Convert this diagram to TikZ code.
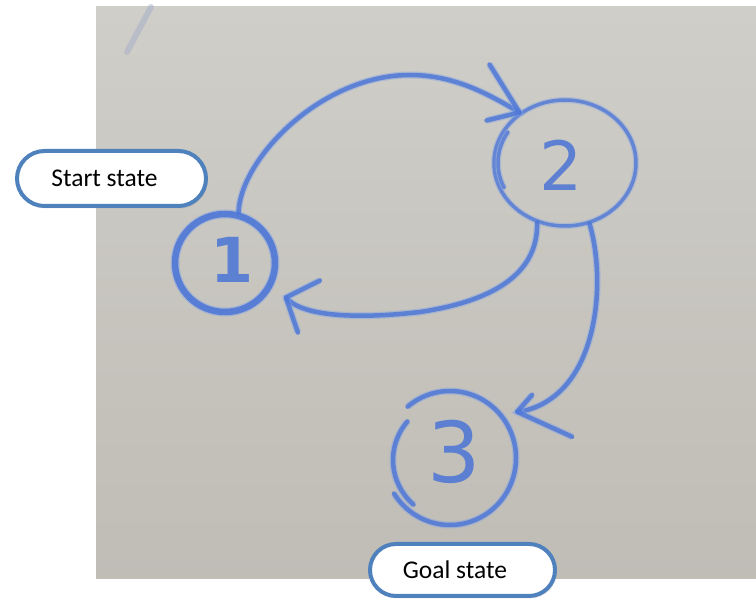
\documentclass[tikz,border=0pt]{standalone}
\usepackage{fontspec}
\newfontfamily\labelfont{Carlito}
\newfontfamily\digitfont{DejaVu Sans}
\usetikzlibrary{calc,shapes.geometric,shadows}
\definecolor{boardtop}{RGB}{207,206,200}
\definecolor{boardbottom}{RGB}{192,188,182}
\definecolor{ink}{RGB}{74,116,214}
\definecolor{inklight}{RGB}{132,164,228}
\definecolor{ghost}{RGB}{160,170,200}
\definecolor{frameblue}{RGB}{79,129,189}
\begin{document}
\begin{tikzpicture}[x=1pt,y=1pt,
  inkthick/.style={draw=ink, line width=6.5pt, line cap=round, line join=round, draw opacity=0.85,
    preaction={draw=inklight, line width=9pt, draw opacity=0.5}},
  inkmid/.style={draw=ink, line width=4.5pt, line cap=round, line join=round, draw opacity=0.8,
    preaction={draw=inklight, line width=7pt, draw opacity=0.45}},
  inkthin/.style={draw=ink, line width=3.5pt, line cap=round, line join=round, draw opacity=0.75,
    preaction={draw=inklight, line width=6pt, draw opacity=0.4}},
  statecircle/.style={ellipse, inner sep=0pt},
  digit/.style={inner sep=0pt, text=ink, text opacity=0.85},
  pill/.style={draw=frameblue, line width=4pt, fill=white, rounded corners=#1, inner sep=0pt,
    font=\labelfont\fontsize{25.5}{30}\selectfont,
    drop shadow={opacity=0.18, shadow xshift=1.5pt, shadow yshift=-2.5pt}}]

  % page and whiteboard photo
  \useasboundingbox (0,0) rectangle (756,600);
  \fill[white] (0,0) rectangle (756,600);
  \shade[top color=boardtop, bottom color=boardbottom] (96,21) rectangle (756,593);
  \draw[ghost, line width=6pt, line cap=round, opacity=0.45] (151,593) -- (127,548);

  % states
  \node[statecircle, inkthick, minimum width=100pt, minimum height=98pt] (n1) at (225,337) {};
  \node[statecircle, inkthin, minimum width=142pt, minimum height=126pt] (n2) at (565,437) {};
  \node[statecircle, minimum width=132pt, minimum height=134pt] (n3) at (450,142) {};

  % second pass on the left of state 2
  \draw[inkthin] ($(n2.center)+(148:67 and 59)$) arc[start angle=148, end angle=205, x radius=67, y radius=59];
  % state 3 ring, drawn in two strokes
  \draw[inkmid] ($(n3.center)+(212:66 and 67)$) arc[start angle=212, end angle=490, x radius=66, y radius=67];
  \draw[inkmid] ($(n3.center)+(5,-2)+(140:62 and 60)$) arc[start angle=140, end angle=228, x radius=62, y radius=60];

  % 1 -> 2
  \draw[inkmid] (n1.75) .. controls (240,440) and (320,525) .. (410,525)
    .. controls (455,525) and (490,505) .. (n2.132) coordinate (tipA);
  \draw[inkmid] ($(tipA)+(-30,48)$) -- (tipA) -- ($(tipA)+(-33,-8)$);

  % 2 -> 1
  \draw[inkmid] (n2.245) .. controls (538,330) and (500,300) .. (420,288)
    .. controls (350,280) and (300,285) .. ($(n1.330)+(15,-8)$) coordinate (tipB);
  \draw[inkmid] ($(tipB)+(34,17)$) -- (tipB) -- ($(tipB)+(12,-35)$);

  % 2 -> 3
  \draw[inkmid] (n2.292) .. controls (603,330) and (600,260) .. (570,220)
    .. controls (555,200) and (535,190) .. ($(n3.34)+(12,9)$) coordinate (tipC);
  \draw[inkmid] ($(tipC)+(15,17)$) -- (tipC) -- ($(tipC)+(55,-25)$);

  % state numbers
  \node[digit, font=\digitfont\bfseries\fontsize{62}{62}\selectfont] (d1) at (232,340) {1};
  \node[digit, font=\digitfont\fontsize{68}{68}\selectfont] (d2) at (561,435) {2};
  \node[digit, font=\digitfont\fontsize{84}{84}\selectfont] (d3) at (454,148) {3};

  % callouts
  \node[pill=27.5pt, minimum width=189pt, minimum height=55pt] (start) at (111.5,421.5) {Start state\kern14pt};
  \node[pill=26pt, minimum width=185pt, minimum height=52pt] (goal) at (462.5,30) {Goal state\kern15pt};
\end{tikzpicture}
\end{document}
